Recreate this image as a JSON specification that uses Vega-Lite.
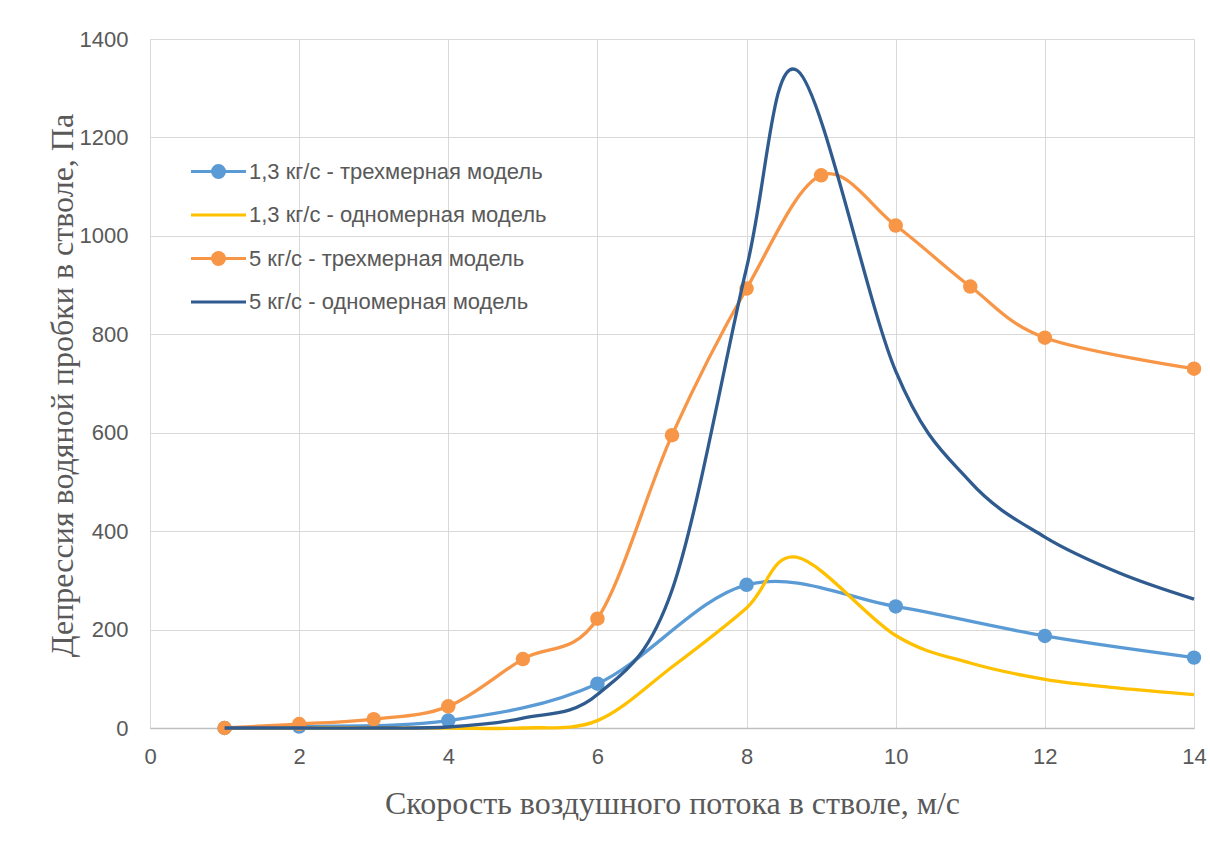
{
  "$schema": "https://vega.github.io/schema/vega-lite/v6.json",
  "width": 1044,
  "height": 689,
  "autosize": {"type": "none"},
  "padding": {"left": 150, "top": 39, "right": 16, "bottom": 124},
  "background": "white",
  "config": {
    "view": {"stroke": "#D9D9D9", "strokeWidth": 1},
    "font": "Liberation Sans"
  },
  "data": {
    "values": [
      {"v": 1, "dp": 0, "series": "1,3 кг/с - трехмерная модель"},
      {"v": 2, "dp": 3, "series": "1,3 кг/с - трехмерная модель"},
      {"v": 4, "dp": 15, "series": "1,3 кг/с - трехмерная модель"},
      {"v": 6, "dp": 90, "series": "1,3 кг/с - трехмерная модель"},
      {"v": 8, "dp": 291, "series": "1,3 кг/с - трехмерная модель"},
      {"v": 10, "dp": 247, "series": "1,3 кг/с - трехмерная модель"},
      {"v": 12, "dp": 187, "series": "1,3 кг/с - трехмерная модель"},
      {"v": 14, "dp": 143, "series": "1,3 кг/с - трехмерная модель"},

      {"v": 1, "dp": 0, "series": "1,3 кг/с - одномерная модель"},
      {"v": 2, "dp": 0, "series": "1,3 кг/с - одномерная модель"},
      {"v": 3, "dp": 0, "series": "1,3 кг/с - одномерная модель"},
      {"v": 4, "dp": 0, "series": "1,3 кг/с - одномерная модель"},
      {"v": 5, "dp": 0, "series": "1,3 кг/с - одномерная модель"},
      {"v": 6, "dp": 15, "series": "1,3 кг/с - одномерная модель"},
      {"v": 7, "dp": 124, "series": "1,3 кг/с - одномерная модель"},
      {"v": 8, "dp": 244, "series": "1,3 кг/с - одномерная модель"},
      {"v": 8.67, "dp": 347, "series": "1,3 кг/с - одномерная модель"},
      {"v": 10, "dp": 188, "series": "1,3 кг/с - одномерная модель"},
      {"v": 11, "dp": 132, "series": "1,3 кг/с - одномерная модель"},
      {"v": 12, "dp": 99, "series": "1,3 кг/с - одномерная модель"},
      {"v": 13, "dp": 81, "series": "1,3 кг/с - одномерная модель"},
      {"v": 14, "dp": 68, "series": "1,3 кг/с - одномерная модель"},

      {"v": 1, "dp": 0, "series": "5 кг/с - трехмерная модель"},
      {"v": 2, "dp": 8, "series": "5 кг/с - трехмерная модель"},
      {"v": 3, "dp": 18, "series": "5 кг/с - трехмерная модель"},
      {"v": 4, "dp": 44, "series": "5 кг/с - трехмерная модель"},
      {"v": 5, "dp": 140, "series": "5 кг/с - трехмерная модель"},
      {"v": 6, "dp": 222, "series": "5 кг/с - трехмерная модель"},
      {"v": 7, "dp": 595, "series": "5 кг/с - трехмерная модель"},
      {"v": 8, "dp": 893, "series": "5 кг/с - трехмерная модель"},
      {"v": 9, "dp": 1123, "series": "5 кг/с - трехмерная модель"},
      {"v": 10, "dp": 1021, "series": "5 кг/с - трехмерная модель"},
      {"v": 11, "dp": 897, "series": "5 кг/с - трехмерная модель"},
      {"v": 12, "dp": 793, "series": "5 кг/с - трехмерная модель"},
      {"v": 14, "dp": 730, "series": "5 кг/с - трехмерная модель"},

      {"v": 1, "dp": 0, "series": "5 кг/с - одномерная модель"},
      {"v": 2, "dp": 0, "series": "5 кг/с - одномерная модель"},
      {"v": 3, "dp": 0, "series": "5 кг/с - одномерная модель"},
      {"v": 4, "dp": 2, "series": "5 кг/с - одномерная модель"},
      {"v": 5, "dp": 20, "series": "5 кг/с - одномерная модель"},
      {"v": 6, "dp": 68, "series": "5 кг/с - одномерная модель"},
      {"v": 7, "dp": 280, "series": "5 кг/с - одномерная модель"},
      {"v": 8, "dp": 935, "series": "5 кг/с - одномерная модель"},
      {"v": 8.68, "dp": 1336, "series": "5 кг/с - одномерная модель"},
      {"v": 10, "dp": 725, "series": "5 кг/с - одномерная модель"},
      {"v": 11, "dp": 500, "series": "5 кг/с - одномерная модель"},
      {"v": 12, "dp": 388, "series": "5 кг/с - одномерная модель"},
      {"v": 13, "dp": 315, "series": "5 кг/с - одномерная модель"},
      {"v": 14, "dp": 262, "series": "5 кг/с - одномерная модель"}
    ]
  },
  "encoding": {
    "x": {
      "field": "v",
      "type": "quantitative",
      "scale": {"domain": [0, 14], "nice": false, "zero": false},
      "axis": {
        "title": "Скорость воздушного потока в стволе, м/с",
        "values": [0, 2, 4, 6, 8, 10, 12, 14],
        "format": "d",
        "grid": true,
        "gridColor": "#D9D9D9",
        "gridWidth": 1,
        "ticks": false,
        "domainColor": "#BFBFBF",
        "domainWidth": 1.5,
        "labelFont": "Liberation Sans",
        "labelFontSize": 22,
        "labelColor": "#595959",
        "labelPadding": 18,
        "labelFlush": false,
        "titleFont": "Liberation Serif",
        "titleFontSize": 32,
        "titleFontWeight": "normal",
        "titleColor": "#595959",
        "titleX": 522,
        "titleY": 75,
        "titleAlign": "center",
        "titleBaseline": "middle"
      }
    },
    "y": {
      "field": "dp",
      "type": "quantitative",
      "scale": {"domain": [0, 1400], "nice": false},
      "axis": {
        "title": "Депрессия водяной пробки в стволе, Па",
        "values": [0, 200, 400, 600, 800, 1000, 1200, 1400],
        "format": "d",
        "grid": true,
        "gridColor": "#D9D9D9",
        "gridWidth": 1,
        "ticks": false,
        "domain": false,
        "labelFont": "Liberation Sans",
        "labelFontSize": 22,
        "labelColor": "#595959",
        "labelPadding": 22,
        "titleFont": "Liberation Serif",
        "titleFontSize": 32,
        "titleFontWeight": "normal",
        "titleColor": "#595959",
        "titleAngle": 270,
        "titleX": -88,
        "titleY": 346,
        "titleAlign": "center",
        "titleBaseline": "middle"
      }
    },
    "color": {
      "field": "series",
      "type": "nominal",
      "scale": {
        "domain": [
          "1,3 кг/с - трехмерная модель",
          "1,3 кг/с - одномерная модель",
          "5 кг/с - трехмерная модель",
          "5 кг/с - одномерная модель"
        ],
        "range": ["#5B9BD5", "#FFC000", "#F79646", "#2F5B8F"]
      },
      "legend": {
        "title": null,
        "orient": "none",
        "legendX": 57,
        "legendY": 121,
        "direction": "vertical",
        "labelFont": "Liberation Sans",
        "labelFontSize": 22,
        "labelColor": "#595959",
        "labelLimit": 0,
        "labelOffset": 19,
        "rowPadding": 19.5,
        "symbolSize": 400,
        "symbolStrokeWidth": 3,
        "symbolType": "M-2.75,0L2.75,0",
        "encode": {
          "symbols": {
            "update": {
              "shape": {"signal": "indexof(datum.value, 'трехмерная') >= 0 ? 'M-2.75,0L2.75,0M-0.6,0a0.6,0.6 0 1,0 1.2,0a0.6,0.6 0 1,0 -1.2,0' : 'M-2.75,0L2.75,0'"},
              "fill": {"scale": "color", "field": "value"},
              "stroke": {"scale": "color", "field": "value"},
              "strokeWidth": {"value": 3},
              "opacity": {"value": 1},
              "fillOpacity": {"value": 1}
            }
          }
        }
      }
    }
  },
  "layer": [
    {
      "transform": [{"filter": "datum.series === '1,3 кг/с - трехмерная модель'"}],
      "mark": {"type": "line", "interpolate": "cardinal", "strokeWidth": 3.3}
    },
    {
      "transform": [{"filter": "datum.series === '1,3 кг/с - трехмерная модель'"}],
      "mark": {"type": "circle", "size": 210, "opacity": 1}
    },
    {
      "transform": [{"filter": "datum.series === '1,3 кг/с - одномерная модель'"}],
      "mark": {"type": "line", "interpolate": "cardinal", "strokeWidth": 3.3}
    },
    {
      "transform": [{"filter": "datum.series === '5 кг/с - трехмерная модель'"}],
      "mark": {"type": "line", "interpolate": "cardinal", "strokeWidth": 3.3}
    },
    {
      "transform": [{"filter": "datum.series === '5 кг/с - трехмерная модель'"}],
      "mark": {"type": "circle", "size": 210, "opacity": 1}
    },
    {
      "transform": [{"filter": "datum.series === '5 кг/с - одномерная модель'"}],
      "mark": {"type": "line", "interpolate": "cardinal", "strokeWidth": 3.3}
    }
  ]
}
